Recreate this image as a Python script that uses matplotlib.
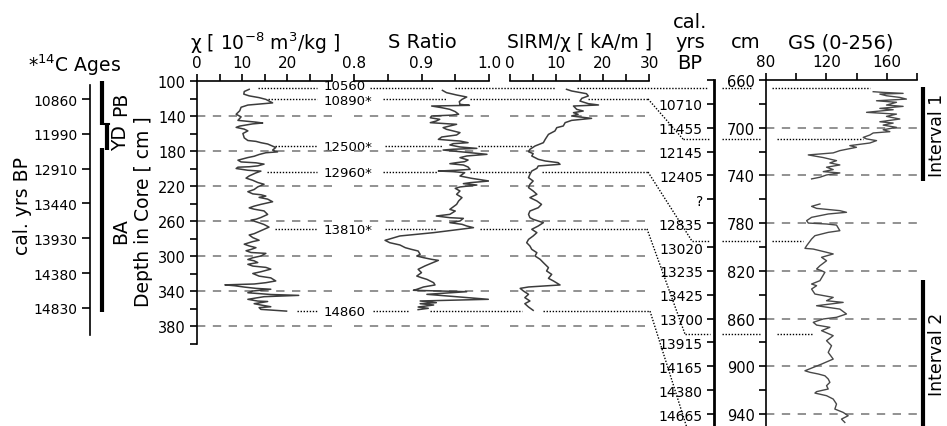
import numpy as np
import matplotlib
matplotlib.use('Agg')
import matplotlib.pyplot as plt
from matplotlib.transforms import blended_transform_factory

plt.rcParams['font.family'] = 'DejaVu Sans'

W, H = 947, 427

# Upper core: depth [cm] and magnetic parameters
chi_depth = [109.5, 112, 115, 117, 119, 121, 125, 126, 127.5, 130, 134, 138, 141, 145, 145.7,
             147, 148, 149, 151.5, 153, 155, 157, 160, 165, 168, 169, 170.5, 172, 176, 179,
             181, 182, 184, 186, 187.5, 190.5, 192.5, 193.5, 195, 197, 198, 198.5, 200, 202,
             203, 205, 208.5, 211, 213.5, 216, 218, 221, 224, 226.5, 229, 230, 231.5, 233,
             235, 238, 241, 243, 245, 246.5, 248.5, 252.5, 256, 258, 259, 262, 264, 267,
             269.5, 272, 274.5, 276, 279, 282, 283.5, 286.5, 288.5, 290.5, 292.5, 294, 296,
             297, 300, 302, 304, 305.5, 307.5, 309.5, 311.5, 313, 315, 318, 320, 323, 325,
             328.5, 330.5, 332, 333, 334, 335.5, 337, 338, 340, 342, 344, 345, 346.5, 349.5,
             351.5, 352, 354.5, 356, 358, 359, 361, 363]
chi_val = [11.6, 10.5, 10.4, 11.6, 13.8, 15.3, 16.8, 14.6, 11.3, 9.8, 9.5, 8.7, 9.8, 9.1, 10.5,
           13.1, 14.6, 12.4, 9.5, 8.7, 10.5, 11.3, 10.2, 10.5, 11.3, 13.1, 14.2, 15.7, 17.5, 16.8,
           17.9, 15.3, 13.8, 12.7, 11.3, 9.1, 9.8, 13.1, 14.9, 13.5, 11.6, 9.1, 8.7, 11.3,
           14.2, 13.1, 11.6, 10.9, 12.4, 13.5, 14.9, 13.5, 12.7, 11.3, 12.4, 14.2, 15.3, 13.8,
           15.7, 16.8, 14.2, 12.7, 11.6, 12.7, 14.9, 15.7, 14.2, 13.1, 12.0, 13.8, 14.9, 16.0,
           14.9, 13.8, 12.7, 11.6, 12.4, 13.8, 12.4, 10.5, 11.6, 13.1, 12.0, 10.9, 12.0,
           15.3, 14.2, 12.4, 11.3, 12.7, 13.5, 11.3, 12.4, 15.3, 16.4, 14.2, 12.4, 13.8, 16.4,
           17.5, 15.3, 12.7, 6.2, 8.4, 10.5, 13.1, 16.4, 12.4, 11.3, 16.4, 22.6, 14.9, 11.3,
           13.5, 15.7, 12.7, 14.2, 16.4, 13.8, 14.2, 19.9]

s_depth = [110.7, 113.3, 116, 118.3, 121, 123.6, 126.7, 127.8, 128.6, 130.5, 132.4, 135, 138,
           139, 140, 142, 143.8, 145.7, 147.6, 148.8, 149.5, 151.4, 153.3, 155.2, 157.1, 159,
           161.7, 164, 166.7, 167.8, 168.6, 170.5, 171.6, 173.1, 175.4, 177, 178, 178.9, 180.8,
           183.8, 185.7, 187.6, 190.3, 192.2, 193.3, 194.5, 196, 198.3, 201, 202, 202.9, 203.6,
           204.8, 208.6, 211.2, 214.3, 216.2, 217.3, 218.9, 221.1, 222.7, 225.7, 229.5, 233.3,
           237.1, 241, 246.7, 248.6, 252.4, 254.3, 256.2, 257, 260, 261.9, 263.8, 265.7, 267.6,
           273.3, 275.2, 277.1, 282.1, 284.8, 287.4, 290.5, 292.4, 294.3, 298.1, 300, 301.9,
           303.8, 305, 308.8, 311.4, 315.2, 319, 322.9, 324.8, 326.7, 330.5, 333.1, 335.4,
           338.1, 339.2, 340.8, 343.8, 349.5, 351.4, 353.3, 354.5, 356, 358.3, 359.8, 361.3]
s_val = [0.931, 0.937, 0.952, 0.967, 0.960, 0.956, 0.957, 0.971, 0.915, 0.930, 0.942, 0.950,
         0.955, 0.945, 0.915, 0.913, 0.927, 0.922, 0.913, 0.937, 0.952, 0.942, 0.932, 0.937,
         0.947, 0.957, 0.952, 0.930, 0.925, 0.942, 0.957, 0.969, 0.947, 0.942, 0.957, 0.982,
         0.947, 0.932, 0.957, 0.997, 0.967, 0.957, 0.969, 0.964, 0.952, 0.942, 0.962, 0.969,
         0.972, 0.952, 0.925, 0.947, 0.964, 0.957, 0.974, 1.0, 0.972, 0.962, 0.982, 0.957,
         0.950, 0.957, 0.952, 0.960, 0.955, 0.952, 0.942, 0.950, 0.942, 0.922, 0.942, 0.962,
         0.957, 0.942, 0.960, 0.967, 0.977, 0.918, 0.893, 0.868, 0.846, 0.853, 0.868, 0.876,
         0.885, 0.895, 0.898, 0.893, 0.903, 0.915, 0.925, 0.913, 0.905, 0.895, 0.900, 0.893,
         0.900, 0.908, 0.918, 0.920, 0.903, 0.893, 0.888, 0.967, 0.908, 0.999, 0.898, 0.922,
         0.898, 0.918, 0.895, 0.910, 0.895]

sirm_depth = [109.5, 111.4, 114.5, 117.1, 119.8, 122.9, 125.9, 127.4, 128.6, 132.4, 134.3, 136.2,
              138.1, 140, 142.7, 145, 147.6, 151.4, 153.3, 157.1, 161, 166.7, 170.5, 174.3,
              178.1, 180.8, 183, 185.7, 189.5, 191.4, 193.3, 195.2, 197.1, 199.8, 202.9, 206.7,
              210.5, 214.3, 218.1, 221.9, 225.7, 229.5, 233.3, 237.1, 241, 244.8, 248.6, 252.4,
              256.2, 258.1, 261.9, 265.7, 269.5, 273.3, 277.1, 281, 284.8, 288.6, 292.4, 296.2,
              300, 303.8, 307.6, 313.3, 317.1, 321, 325.5, 328.6, 333.1, 335.4, 337, 340, 343.8,
              347.6, 351.4, 354.5, 358.3, 362.1]
sirm_val = [12.2, 13.3, 16.5, 16.9, 15.5, 15.1, 16.9, 19.1, 13.7, 14.4, 15.8, 13.7, 14.7, 13.3,
            17.6, 13.3, 11.9, 11.5, 10.1, 9.7, 8.3, 7.6, 7.2, 5.4, 4.3, 4.0, 5.0, 4.7, 6.1, 7.6,
            10.4, 10.8, 6.1, 5.8, 4.7, 4.3, 4.0, 5.0, 4.3, 4.0, 5.0, 5.8, 4.3, 5.8, 6.8, 6.1,
            4.3, 4.0, 4.3, 5.0, 7.2, 6.1, 4.7, 5.8, 5.0, 4.0, 3.6, 4.3, 4.7, 5.8, 5.4, 6.5,
            7.2, 8.3, 7.9, 9.0, 8.3, 9.4, 10.8, 4.0, 2.2, 2.9, 4.0, 3.2, 4.3, 3.2, 4.0, 5.0]

# Lower core: grey scale (NaN marks the missing section)
gs_depth = [669.8, 670.4, 671.2, 671.8, 673.2, 674.6, 676.0, 677.4, 678.7, 681.0, 682.1, 683.8,
            684.9, 687.1, 688.6, 690.5, 692.7, 695.0, 696.1, 697.8, 699.7, 701.7, 703.3, 704.4,
            706.1, 708.1, 709.4, 710.8, 712.8, 715.0, 716.4, 719.2, 721.1, 722.8, 725.0, 727.6,
            729.5, 731.2, 733.1, 735.1, 736.8, 737.9, 739.6, 741.5, 742.9, np.nan,
            763.9, 765.9, 767.6, 769.5, 770.9, 772.3, 775.1, 777.9, 779.9, 780.7, 781.6, 786.3,
            787.7, 790.5, 793.3, 798.9, 801.1, 801.7, 804.4, 805.8, 808.6, 811.5, 815.7, 818.4,
            819.8, 821.2, 828.2, 831.0, 832.4, 835.2, 839.4, 842.2, 845.0, 846.4, 849.2, 852.0,
            856.1, 858.9, 860.3, 863.1, 865.4, 867.3, 870.1, 874.3, 878.5, 882.7, 888.3, 893.9,
            898.1, 903.7, 905.0, 906.4, 907.9, 910.6, 913.4, 916.2, 919.0, 921.2, 922.4, 924.6,
            927.4, 931.6, 935.8, 938.6, 941.4, 944.2, 947.0]
gs_val = [151.0, 157.6, 170.8, 155.4, 159.8, 168.6, 173.0, 153.2, 166.4, 159.8, 170.8, 155.4,
          164.2, 146.6, 166.4, 159.8, 168.6, 155.4, 164.2, 157.6, 166.4, 157.6, 162.0, 151.0,
          148.8, 144.4, 146.6, 153.2, 148.8, 135.5, 139.9, 128.9, 124.5, 108.0, 117.9, 126.7,
          122.3, 128.9, 120.1, 124.5, 117.9, 128.9, 120.1, 115.7, 110.2, np.nan,
          115.7, 110.2, 113.5, 128.9, 133.3, 121.2, 110.2, 106.9, 108.0, 120.1, 126.7, 128.9,
          121.2, 112.4, 110.2, 106.9, 105.8, 111.3, 120.1, 124.5, 116.8, 120.1, 115.7, 113.5,
          116.8, 119.0, 115.7, 110.2, 113.5, 110.2, 112.4, 124.5, 120.1, 131.1, 113.5, 128.9,
          133.3, 126.7, 117.9, 111.3, 113.5, 122.3, 116.8, 124.5, 120.1, 123.4, 121.2, 124.5,
          116.8, 105.8, 109.1, 114.6, 119.0, 121.2, 122.3, 120.1, 121.2, 113.5, 112.4, 120.1,
          124.5, 126.7, 125.6, 131.1, 134.4, 130.0, 132.2]

# Age tie points: depth in upper core, depth in lower core
tie_labels = ['10560', '10890*', '12500*', '12960*', '13810*', '14860']
tie_depth_upper = [108, 120.5, 174, 204, 269, 363]
tie_depth_lower = [666.7, 709.5, None, 795, 873, 965]

c14_ages = ['10860', '11990', '12910', '13440', '13930', '14380', '14830']
period_names = ['PB', 'YD', 'BA']
period_spans = [(-0.52, 0.75), (0.72, 1.46), (1.41, 6.12)]

cal_ticks = list(range(660, 941, 20))
cal_labels = ['', '10710', '11455', '12145', '12405', '?', '12835', '13020', '13235',
              '13425', '13700', '13915', '14165', '14380', '14665']

intervals = [('Interval 1', 666, 745), ('Interval 2', 828, 965)]

LINE = '#3c3c3c'
GRID = '#7f7f7f'


def box(x0, y0, x1, y1):
    return [x0 / W, 1 - y1 / H, (x1 - x0) / W, (y1 - y0) / H]


def ftext(x, y, s, **kw):
    fig.text(x / W, 1 - y / H, s, ha=kw.pop('ha', 'center'), va=kw.pop('va', 'center'), **kw)


fig = plt.figure(figsize=(W / 100, H / 100), dpi=100)

# overlay in pixel units for the tie lines
ov = fig.add_axes([0, 0, 1, 1])
ov.set_xlim(0, W)
ov.set_ylim(H, 0)
ov.axis('off')


def top_axis(ax, lo, hi, step, labels):
    ax.set_xlim(lo, hi)
    ax.patch.set_visible(False)
    for side in ['bottom', 'right', 'left']:
        ax.spines[side].set_visible(False)
    ax.spines['top'].set_linewidth(1.2)
    ax.xaxis.tick_top()
    ax.set_xticks(np.arange(lo, hi + step / 2, step))
    ax.set_xticklabels(labels)
    ax.tick_params(axis='x', direction='out', length=5, width=1.2, pad=3, labelsize=11)
    ax.set_yticks([])


ax_chi = fig.add_axes(box(197, 82, 332, 344.5))
ax_s = fig.add_axes(box(354, 82, 489, 344.5))
ax_sirm = fig.add_axes(box(510, 82, 649, 344.5))
top_axis(ax_chi, 0, 30, 5, ['0', '', '10', '', '20', '', ''])
top_axis(ax_s, 0.8, 1.0, 0.05, ['0.8', '', '0.9', '', '1.0'])
top_axis(ax_sirm, 0, 30, 5, ['0', '', '10', '', '20', '', '30'])

depth_ticks = list(range(100, 401, 20))
for ax in (ax_chi, ax_s, ax_sirm):
    ax.set_ylim(400, 100)
    for d in range(140, 381, 40):
        ax.axhline(d, color=GRID, lw=1.2, ls=(0, (5, 4.5)), zorder=1)

ax_chi.spines['left'].set_visible(True)
ax_chi.spines['left'].set_linewidth(1.2)
ax_chi.set_yticks(depth_ticks)
ax_chi.set_yticklabels([str(d) if (d - 100) % 40 == 0 and d < 400 else '' for d in depth_ticks])
ax_chi.tick_params(axis='y', direction='out', length=5, width=1.2, pad=3, labelsize=10.5)

ax_chi.plot(chi_val, chi_depth, color=LINE, lw=1.1, zorder=3)
ax_s.plot(s_val, s_depth, color=LINE, lw=1.1, zorder=3)
ax_sirm.plot(sirm_val, sirm_depth, color=LINE, lw=1.1, zorder=3)

# lower core grey scale
ax_gs = fig.add_axes(box(766, 81, 917, 427))
top_axis(ax_gs, 80, 180, 20, ['80', '', '120', '', '160', ''])
ax_gs.set_ylim(950, 660)
ax_gs.spines['left'].set_visible(True)
ax_gs.spines['left'].set_linewidth(1.2)
ax_gs.set_yticks(cal_ticks)
ax_gs.set_yticklabels([str(d) if (d - 660) % 40 == 0 else '' for d in cal_ticks])
ax_gs.tick_params(axis='y', direction='out', length=5, width=1.2, pad=3, labelsize=10.5)
for d in range(700, 941, 40):
    ax_gs.axhline(d, color=GRID, lw=1.2, ls=(0, (5, 4.5)), zorder=1)
ax_gs.plot(gs_val, gs_depth, color='#484848', lw=1.0, zorder=3)

blend = blended_transform_factory(ax_gs.transAxes, ax_gs.transData)
for name, top, bot in intervals:
    ax_gs.plot([1.04, 1.04], [top, bot], color='black', lw=3, transform=blend,
               clip_on=False, solid_capstyle='butt')
    ax_gs.text(1.133, (top + min(bot, 950)) / 2, name, rotation=90, ha='center',
               va='center', fontsize=12.5, transform=blend, clip_on=False)

# calendar age axis
ax_cal = fig.add_axes(box(714, 81, 715, 427))
ax_cal.set_ylim(950, 660)
ax_cal.patch.set_visible(False)
for side in ['bottom', 'right', 'top']:
    ax_cal.spines[side].set_visible(False)
ax_cal.spines['left'].set_linewidth(2)
ax_cal.set_xticks([])
ax_cal.set_yticks(cal_ticks)
ax_cal.set_yticklabels(cal_labels)
ax_cal.tick_params(axis='y', direction='out', length=5, width=1.2, pad=3, labelsize=10)

# 14C age axis with pollen zones
ax_c14 = fig.add_axes(box(90, 86, 130, 336))
ax_c14.set_xlim(0, 40)
ax_c14.set_ylim(6.776, -0.402)
ax_c14.patch.set_visible(False)
for side in ['bottom', 'right', 'top']:
    ax_c14.spines[side].set_visible(False)
ax_c14.spines['left'].set_linewidth(1.2)
ax_c14.set_xticks([])
ax_c14.set_yticks(range(len(c14_ages)))
ax_c14.set_yticklabels(c14_ages)
ax_c14.tick_params(axis='y', direction='out', length=6, width=1.2, pad=3, labelsize=10)
for name, (top, bot), xb in zip(period_names, period_spans, [12, 17, 12]):
    ax_c14.plot([xb, xb], [top, bot], color='black', lw=3, clip_on=False,
                solid_capstyle='butt')
    ax_c14.text(31, (top + bot) / 2, name, rotation=90, ha='center', va='center',
                fontsize=13.5, clip_on=False)
ax_c14.plot([14, 19], [0.72, 0.72], color='black', lw=1.5, clip_on=False)

# tie lines between the cores
fig.canvas.draw()


def ypix(ax, depth):
    disp = ax.transData.transform((ax.get_xlim()[0], depth))
    return ov.transData.inverted().transform(disp)[1]


left_runs = [
    [(258, 317), (370, 433), (455, 555), (577, 708)],
    [(268, 317), (383, 446), (470, 570), (588, 648)],
    [(275, 317), (385, 443), (478, 532)],
    [(267, 317), (383, 437), (470, 530), (542, 648)],
    [(275, 317), (385, 437), (480, 522), (543, 647)],
    [(297, 317), (373, 408), (430, 522), (543, 650)],
]
slants = [None, (648, 683), None, (648, 692), (647, 685), (650, 692)]
right_runs = [
    [(722, 752), (772, 870)],
    [(683, 710), (722, 760), (777, 863)],
    [],
    [(692, 710), (722, 760), (772, 803)],
    [(685, 710), (722, 760), (777, 813)],
    [],
]
# the two top labels sit very close, nudge them apart a little
label_shift = [-2.5, 2.0, 0.5, 0.5, 0.5, 0.5]
dot = dict(color='black', lw=1.0, ls=(0, (1, 1.2)), zorder=2)
for i, label in enumerate(tie_labels):
    yl = ypix(ax_chi, tie_depth_upper[i])
    for x0, x1 in left_runs[i]:
        ov.plot([x0, x1], [yl, yl], **dot)
    ov.text(324, yl + label_shift[i], label, ha='left', va='center', fontsize=9.5)
    if tie_depth_lower[i] is None:
        continue
    yr = ypix(ax_gs, tie_depth_lower[i])
    if slants[i] is not None:
        ov.plot(slants[i], [yl, yr], **dot)
    for x0, x1 in right_runs[i]:
        ov.plot([x0, x1], [yr, yr], **dot)

# headers
ftext(265, 43, 'χ [ 10$^{-8}$ m$^3$/kg ]', fontsize=13.5)
ftext(422, 43, 'S Ratio', fontsize=14)
ftext(580, 43, 'SIRM/χ [ kA/m ]', fontsize=13.5)
ftext(690, 43, 'cal.\nyrs\nBP', fontsize=14, linespacing=1.1)
ftext(746, 43, 'cm', fontsize=14)
ftext(841, 43, 'GS (0-256)', fontsize=14)
ftext(75, 65, '*$^{14}$C Ages', fontsize=13.5)
ftext(22, 206, 'cal. yrs BP', fontsize=13.5, rotation=90)
ftext(143, 212, 'Depth in Core [ cm ]', fontsize=13.5, rotation=90)

fig.savefig('out.png', dpi=100)
